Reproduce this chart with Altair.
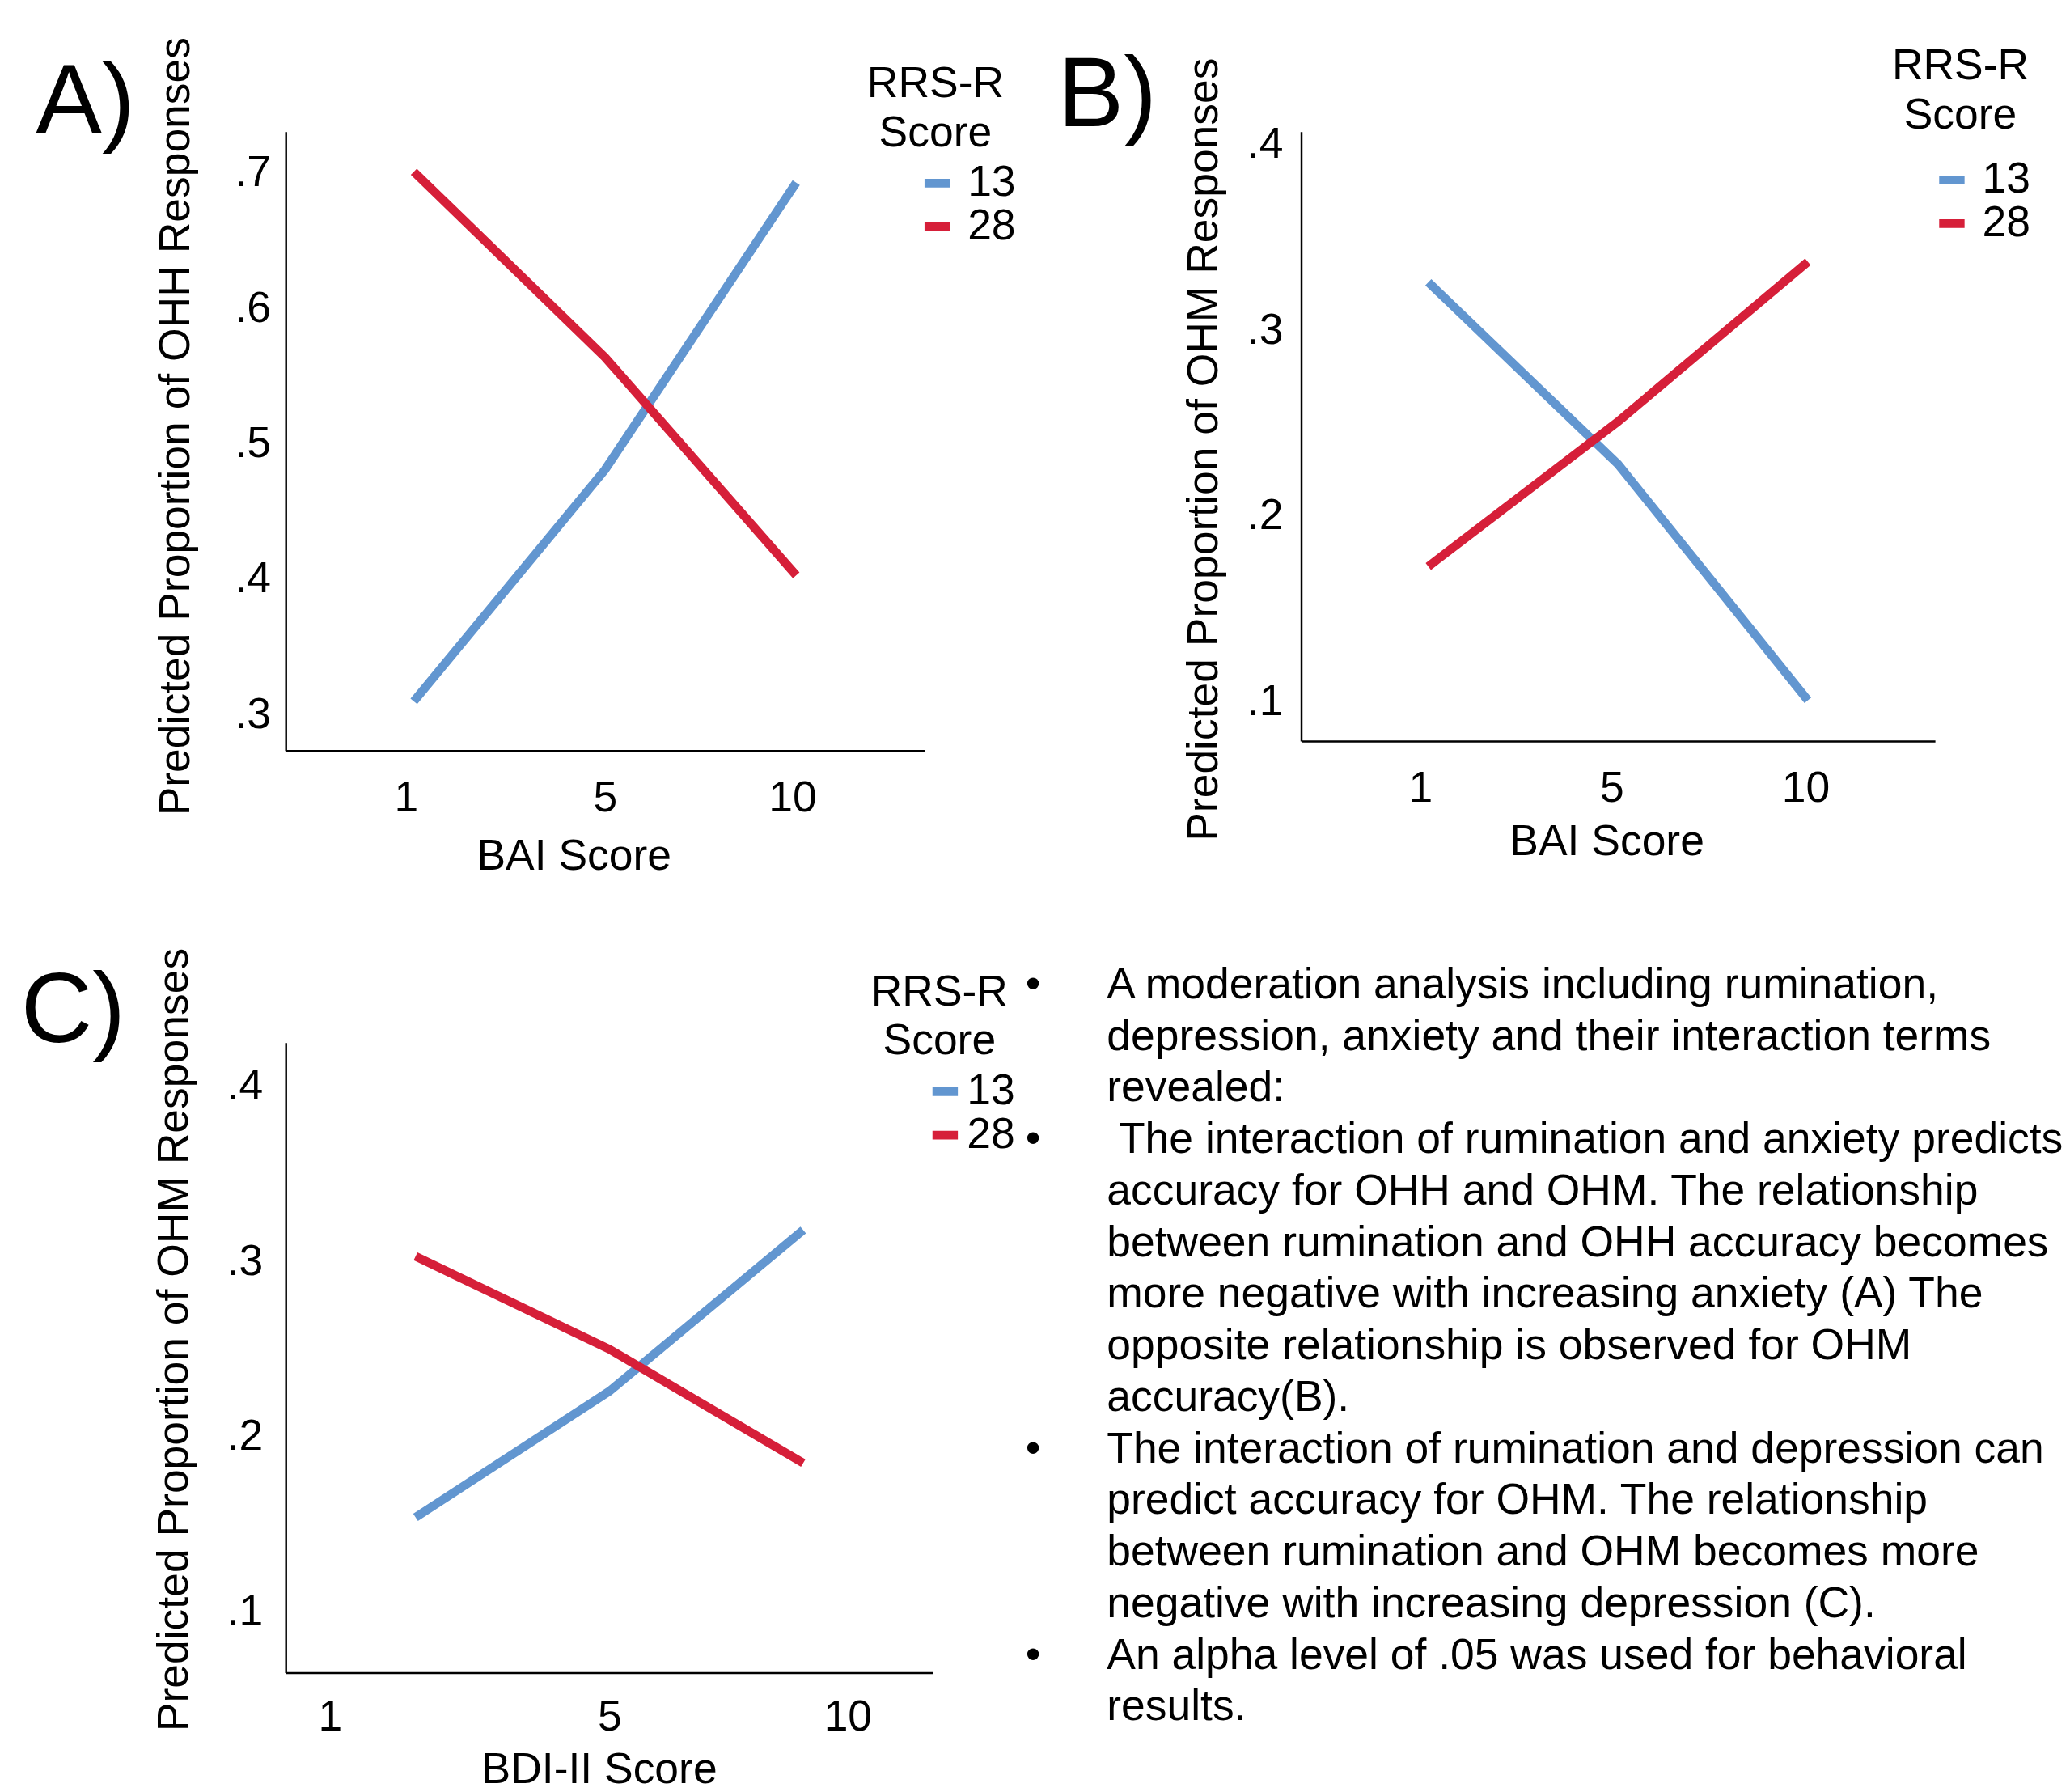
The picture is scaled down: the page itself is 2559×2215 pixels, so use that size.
import altair as alt
import pandas as pd

FONT = "Liberation Sans"
BLUE = "#6296D0"
RED = "#D61F39"
FS = 54.5

score_levels = ["1", "5", "10"]
rrs_levels = ["13", "28"]

# Panel A - OHH responses vs BAI score
a_rrs13 = [0.310, 0.481, 0.693]
a_rrs28 = [0.701, 0.564, 0.403]
# Panel B - OHM responses vs BAI score
b_rrs13 = [0.326, 0.228, 0.101]
b_rrs28 = [0.173, 0.251, 0.337]
# Panel C - OHM responses vs BDI-II score
c_rrs13 = [0.154, 0.226, 0.318]
c_rrs28 = [0.303, 0.250, 0.185]

a_ticks = [0.3, 0.4, 0.5, 0.6, 0.7]
bc_ticks = [0.1, 0.2, 0.3, 0.4]

notes = [
    "A moderation analysis including rumination,",
    "depression, anxiety and their interaction terms",
    "revealed:",
    "The interaction of rumination and anxiety predicts",
    "accuracy for OHH and OHM. The relationship",
    "between rumination and OHH accuracy becomes",
    "more negative with increasing anxiety (A) The",
    "opposite relationship is observed for OHM",
    "accuracy(B).",
    "The interaction of rumination and depression can",
    "predict accuracy for OHM. The relationship",
    "between rumination and OHM becomes more",
    "negative with increasing depression (C).",
    "An alpha level of .05 was used for behavioral",
    "results.",
]
bullet_lines = [1, 4, 10, 14]
indented_lines = [4]


def label_shift(shifts):
    return {"condition": [{"test": f"datum.value === '{k}'", "value": v}
                          for k, v in shifts.items()], "value": 0}


def panel(rrs13, rrs28, ydomain, yticks, xtitle, ytitle, tag, w, h, ax, lg, tagpos):
    df = pd.DataFrame({
        "score": score_levels * 2,
        "value": rrs13 + rrs28,
        "rrs": [rrs_levels[0]] * 3 + [rrs_levels[1]] * 3,
    })
    xaxis = dict(title=xtitle, labelAngle=0, labelPadding=ax["xlp"],
                 titleX=ax["xtx"], titleY=ax["xty"], titleBaseline="alphabetic",
                 titleAlign="center", labelOffset=label_shift(ax["xlo"]))
    lines = alt.Chart(df).mark_line(strokeWidth=11, strokeCap="butt").encode(
        x=alt.X("score:O", sort=score_levels, scale=alt.Scale(padding=0.67),
                axis=alt.Axis(**xaxis)),
        y=alt.Y("value:Q", scale=alt.Scale(domain=ydomain, nice=False, zero=False),
                axis=alt.Axis(title=ytitle, values=yticks,
                              labelExpr="substring(format(datum.value, '.1f'), 1)",
                              labelPadding=ax["ylp"], titleX=ax["ytx"], titleY=ax["yty"],
                              titleBaseline="alphabetic", titleAngle=270,
                              titleAlign="center")),
        color=alt.Color("rrs:N", sort=rrs_levels,
                        scale=alt.Scale(domain=rrs_levels, range=[BLUE, RED]),
                        legend=alt.Legend(
                            title=["RRS-R", "Score"], orient="none",
                            legendX=lg["x"], legendY=lg["y"],
                            titleFont=FONT, titleFontSize=FS, titleFontWeight="normal",
                            titleColor="black", titleAlign="center", titleAnchor="middle",
                            titleLineHeight=62, titlePadding=lg["tp"],
                            labelFont=FONT, labelFontSize=FS, labelColor="black",
                            labelOffset=lg["lo"], symbolOffset=lg["so"],
                            symbolType="stroke", symbolSize=1024, symbolStrokeWidth=11,
                            rowPadding=0, padding=0)),
    )
    tag_df = pd.DataFrame({"tag": [tag]})
    tagmark = alt.Chart(tag_df).mark_text(
        font=FONT, fontSize=125, align="left", baseline="alphabetic", color="black"
    ).encode(text="tag:N", x=alt.value(tagpos[0]), y=alt.value(tagpos[1]))
    return alt.layer(lines, tagmark).properties(width=w, height=h)


pA = panel(a_rrs13, a_rrs28, [0.2736, 0.7305], a_ticks, "BAI Score",
           "Predicted Proportion of OHH Responses", "A)", 805, 780,
           dict(xlp=33, xtx=363, xty=150, ylp=19, ytx=-122, yty=371,
                xlo={"1": -10, "10": -5}),
           dict(x=717, y=-87, tp=8, lo=11, so=77), (-315, 2))
pB = panel(b_rrs13, b_rrs28, [0.079, 0.407], bc_ticks, "BAI Score",
           "Predicted Proportion of OHM Responses", "B)", 799, 768,
           dict(xlp=33, xtx=385, xty=143, ylp=23, ytx=-106, yty=400,
                xlo={"1": -10, "5": -8, "10": -3}),
           dict(x=742, y=-109, tp=26, lo=11, so=51), (-307, -7))
pC = panel(c_rrs13, c_rrs28, [0.0654, 0.425], bc_ticks, "BDI-II Score",
           "Predicted Proportion of OHM Responses", "C)", 816, 794,
           dict(xlp=29, xtx=395, xty=139, ylp=29, ytx=-124, yty=374,
                xlo={"1": -108, "10": 56}),
           dict(x=728, y=-90, tp=8, lo=0, so=76), (-334, -1))

notes_df = pd.DataFrame({
    "line": list(range(1, len(notes) + 1)),
    "text": notes,
    "indent": [1 if i in indented_lines else 0 for i in range(1, len(notes) + 1)],
    "bullet": ["\u2022" if i in bullet_lines else "" for i in range(1, len(notes) + 1)],
})
yenc = alt.Y("line:Q", axis=None, scale=alt.Scale(domain=[1, 15], range=[-72, 838]))
note_text = alt.Chart(notes_df).mark_text(
    font=FONT, fontSize=FS, align="left", baseline="middle", color="black"
).encode(
    x=alt.X("indent:Q", axis=None, scale=alt.Scale(domain=[0, 1], range=[-245, -230])),
    y=yenc, text="text:N")
note_bullets = alt.Chart(notes_df).transform_filter("datum.bullet != ''").mark_text(
    font=FONT, fontSize=FS, align="center", baseline="middle", color="black"
).encode(x=alt.value(-338), y=yenc, text="bullet:N")
pT = alt.layer(note_text, note_bullets).properties(width=200, height=794)

chart = alt.concat(
    pA, pB, pC, pT, columns=2,
    spacing={"row": 368, "column": 464}, bounds="flush", align="each",
).resolve_scale(
    x="independent", y="independent", color="independent"
).resolve_legend(color="independent").properties(
    padding={"left": 18, "top": 16, "right": 0, "bottom": 0},
    background="white",
).configure_view(stroke=None).configure_axis(
    domainColor="black", domainWidth=2.5, ticks=False, tickSize=0, grid=False,
    labelFont=FONT, labelFontSize=FS, labelColor="black",
    titleFont=FONT, titleFontSize=FS, titleFontWeight="normal", titleColor="black",
)

chart.save("out.html", embed_options={"renderer": "svg", "actions": False})
